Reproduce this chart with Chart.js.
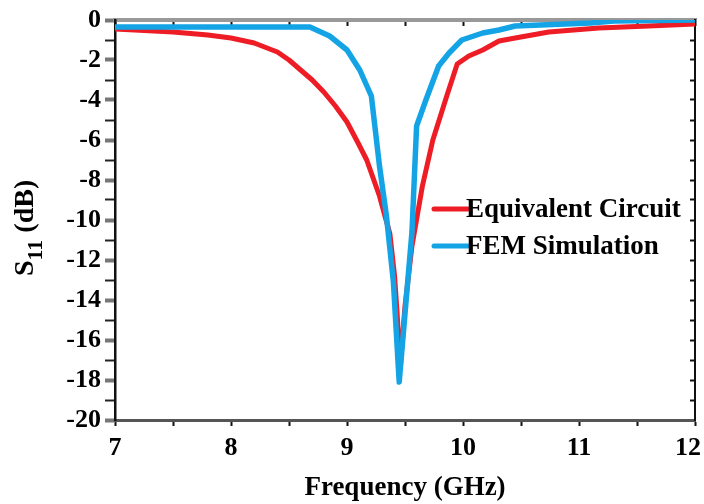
<!DOCTYPE html>
<html>
<head>
<meta charset="utf-8">
<script src="https://cdn.jsdelivr.net/npm/chart.js@4/dist/chart.umd.min.js"></script>
<style>
  html, body { margin: 0; padding: 0; background: #fff; }
  #wrap { width: 704px; height: 504px; position: relative; }
</style>
</head>
<body>
<div id="wrap"><canvas id="c" width="704" height="504"></canvas></div>
<script>
// ---- Data ----
const seriesLabels = ['Equivalent Circuit', 'FEM Simulation'];

const circuitFreq = [7.0, 7.5, 7.8, 8.0, 8.2, 8.4, 8.5, 8.6, 8.7, 8.8, 8.9, 9.0, 9.1, 9.17, 9.28, 9.37, 9.41, 9.43, 9.46, 9.5, 9.56, 9.65, 9.74, 9.86, 9.95, 10.05, 10.17, 10.31, 10.45, 10.74, 11.17, 11.6, 12.0];
const circuitS11  = [-0.45, -0.6, -0.75, -0.9, -1.15, -1.6, -2.0, -2.5, -3.0, -3.6, -4.3, -5.1, -6.2, -7.0, -8.8, -10.7, -12.8, -14.5, -17.3, -14.3, -11.3, -8.3, -6.0, -3.8, -2.2, -1.8, -1.5, -1.05, -0.9, -0.6, -0.4, -0.3, -0.2];

const femFreq = [7.0, 7.5, 8.0, 8.5, 8.68, 8.85, 9.0, 9.11, 9.21, 9.24, 9.28, 9.34, 9.4, 9.45, 9.51, 9.56, 9.6, 9.68, 9.79, 9.88, 9.99, 10.17, 10.31, 10.45, 11.1, 11.3, 12.0];
const femS11  = [-0.35, -0.35, -0.35, -0.35, -0.35, -0.8, -1.5, -2.5, -3.8, -5.3, -7.3, -9.8, -13.1, -18.1, -14.0, -10.6, -5.3, -4.0, -2.3, -1.65, -1.0, -0.65, -0.5, -0.3, -0.15, -0.05, 0.0];

const xTickLabels = ['7', '8', '9', '10', '11', '12'];
const yTickLabels = ['0', '-2', '-4', '-6', '-8', '-10', '-12', '-14', '-16', '-18', '-20'];

const xTitle = 'Frequency (GHz)';
const yTitleMain = 'S';
const yTitleSub = '11';
const yTitleRest = ' (dB)';

const RED = '#ee1d25';
const BLUE = '#14a4e6';
const FONT = '"Liberation Serif", "Times New Roman", serif';

function pts(xs, ys) { return xs.map((x, i) => ({ x: x, y: ys[i] })); }
function isMajorY(ctx) { return ctx.tick && yTickLabels.indexOf(String(ctx.tick.value)) >= 0; }

// ---- plugins: legend inside plot and y title with subscript ----
const customDraw = {
  id: 'customDraw',
  beforeDraw(chart) {
    // keep the last x tick label ("12") inside the canvas, as in the reference
    const sx = chart.scales.x;
    const items = sx.getLabelItems();
    items.forEach(it => {
      if (it.label === xTickLabels[xTickLabels.length - 1]) {
        it.options.textAlign = 'right';
        it.options.translation[0] = 701;
      }
    });
  },
  afterDraw(chart) {
    const ctx = chart.ctx;
    // legend
    const items = [
      { ds: chart.data.datasets[0], y: 209, base: 217 },
      { ds: chart.data.datasets[1], y: 246, base: 254 }
    ];
    ctx.save();
    items.forEach(it => {
      ctx.strokeStyle = it.ds.borderColor;
      ctx.lineWidth = 5;
      ctx.lineCap = 'round';
      ctx.beginPath();
      ctx.moveTo(434, it.y);
      ctx.lineTo(468, it.y);
      ctx.stroke();
      ctx.fillStyle = '#000';
      ctx.font = 'bold 27px ' + FONT;
      ctx.textBaseline = 'alphabetic';
      ctx.textAlign = 'left';
      ctx.fillText(it.ds.label, 466, it.base);
    });
    ctx.restore();

    // y-axis title with subscript
    ctx.save();
    ctx.translate(33, 276);
    ctx.rotate(-Math.PI / 2);
    ctx.fillStyle = '#000';
    ctx.textBaseline = 'alphabetic';
    ctx.textAlign = 'left';
    ctx.font = 'bold 28px ' + FONT;
    let x = 0;
    ctx.fillText(yTitleMain, x, 0);
    x += ctx.measureText(yTitleMain).width;
    ctx.font = 'bold 22px ' + FONT;
    ctx.fillText(yTitleSub, x, 9);
    x += ctx.measureText(yTitleSub).width;
    ctx.font = 'bold 28px ' + FONT;
    ctx.fillText(yTitleRest, x, 0);
    ctx.restore();
  }
};

const tickFont = { family: FONT, size: 26, weight: 'bold' };

new Chart(document.getElementById('c'), {
  type: 'line',
  data: {
    datasets: [
      {
        label: seriesLabels[0],
        data: pts(circuitFreq, circuitS11),
        borderColor: RED,
        backgroundColor: RED,
        borderWidth: 5,
        borderJoinStyle: 'round',
        borderCapStyle: 'round',
        pointRadius: 0,
        tension: 0,
        order: 2
      },
      {
        label: seriesLabels[1],
        data: pts(femFreq, femS11),
        borderColor: BLUE,
        backgroundColor: BLUE,
        borderWidth: 5.5,
        borderJoinStyle: 'round',
        borderCapStyle: 'round',
        pointRadius: 0,
        tension: 0,
        order: 1
      }
    ]
  },
  options: {
    responsive: false,
    animation: false,
    devicePixelRatio: 1,
    layout: { padding: { left: 0, top: 20, right: 9, bottom: 0 } },
    plugins: {
      legend: { display: false },
      tooltip: { enabled: false }
    },
    scales: {
      x: {
        type: 'linear',
        position: 'bottom',
        min: 7, max: 12,
        afterFit(s) { s.height = 84; s.paddingLeft = 0; s.paddingRight = 0; },
        ticks: {
          stepSize: 0.5,
          autoSkip: false,
          maxRotation: 0,
          padding: 7,
          color: '#000',
          font: tickFont,
          callback(v) {
            const i = xTickLabels.indexOf(String(v));
            return i >= 0 ? xTickLabels[i] : '';
          }
        },
        grid: { drawOnChartArea: false, drawTicks: true, tickLength: 6, tickWidth: 2, tickColor: '#111' },
        border: { display: true, color: '#555', width: 3 },
        title: {
          display: true, text: xTitle, color: '#000',
          font: { family: FONT, size: 27, weight: 'bold' },
          padding: { top: 0, bottom: 0 }
        }
      },
      x2: {
        type: 'linear',
        position: 'top',
        min: 7, max: 12,
        afterFit(s) { s.height = 0; s.paddingLeft = 0; s.paddingRight = 0; },
        ticks: { display: false, stepSize: 0.5, autoSkip: false },
        grid: { drawOnChartArea: false, drawTicks: true, tickLength: -6, tickWidth: 2, tickColor: '#111' },
        border: { display: true, color: '#999', width: 4 }
      },
      y: {
        type: 'linear',
        position: 'left',
        min: -20, max: 0,
        afterFit(s) { s.width = 115; s.paddingTop = 0; s.paddingBottom = 0; },
        ticks: {
          stepSize: 1,
          autoSkip: false,
          padding: 4,
          color: '#000',
          font: tickFont,
          callback(v) {
            const i = yTickLabels.indexOf(String(v));
            return i >= 0 ? yTickLabels[i] : '';
          }
        },
        grid: {
          drawOnChartArea: false, drawTicks: true, tickLength: 10,
          tickWidth: ctx => isMajorY(ctx) ? 4 : 2,
          tickColor: ctx => isMajorY(ctx) ? '#777' : '#222'
        },
        border: { display: true, color: '#111', width: 2.5 }
      },
      y2: {
        type: 'linear',
        position: 'right',
        min: -20, max: 0,
        afterFit(s) { s.width = 0; s.paddingTop = 0; s.paddingBottom = 0; },
        ticks: { display: false, stepSize: 1, autoSkip: false },
        grid: { drawOnChartArea: false, drawTicks: true, tickLength: -5, tickWidth: 2, tickColor: '#111' },
        border: { display: true, color: '#111', width: 2 }
      }
    }
  },
  plugins: [customDraw]
});
</script>
</body>
</html>
